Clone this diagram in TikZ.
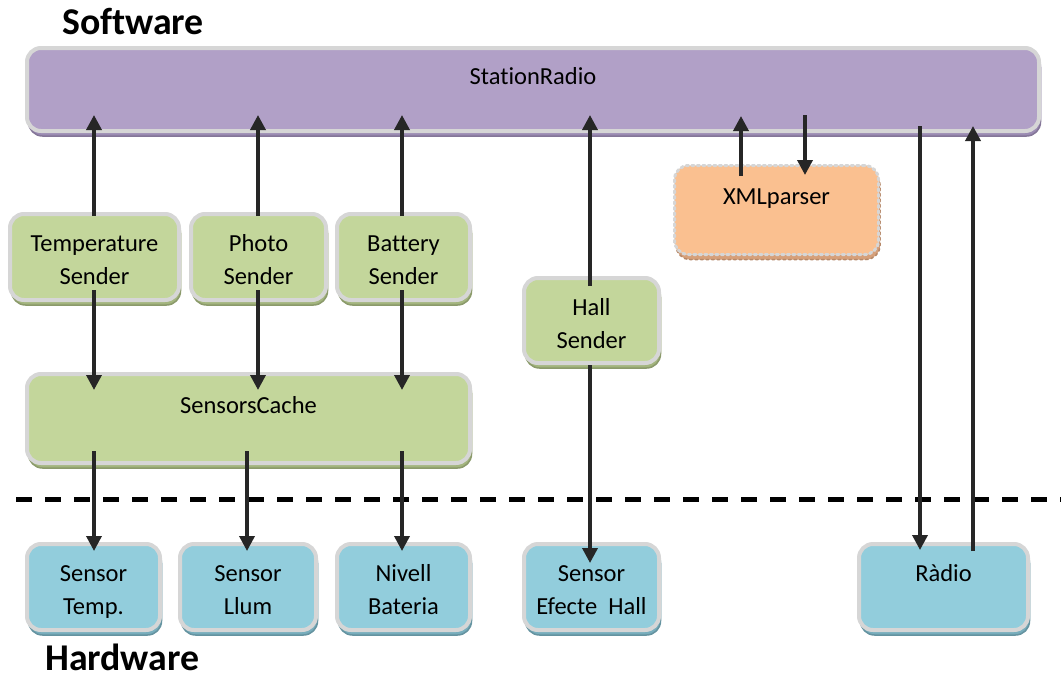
\documentclass[tikz,border=0pt]{standalone}
\usepackage{fontspec}
\setmainfont{Carlito}[Ligatures=NoCommon]
\usetikzlibrary{arrows.meta,calc,shadows}

\definecolor{boxrim}{HTML}{D6D6D6}
\definecolor{purplefill}{HTML}{B1A0C7}
\definecolor{purpleshade}{HTML}{9B8BB3}
\definecolor{greenfill}{HTML}{C3D69B}
\definecolor{greenshade}{HTML}{A3B57E}
\definecolor{bluefill}{HTML}{92CDDC}
\definecolor{blueshade}{HTML}{77ADBC}
\definecolor{orangefill}{HTML}{FAC090}
\definecolor{orangeshade}{HTML}{D6A07A}
\definecolor{arrowc}{HTML}{262626}

% first line of a box label: taller strut pushes the text block down a little
\newcommand\headstrut{\rule{0pt}{32pt}}

\begin{document}
\begin{tikzpicture}[x=1pt,y=-1pt,
  box/.style={draw=boxrim, line width=4pt, rounded corners=14pt, align=center,
    inner sep=0pt, font=\fontsize{24.5}{33}\selectfont},
  withshade/.style={copy shadow={shadow xshift=1.5pt, shadow yshift=-5pt,
    fill=#1, draw=#1!85!black, line width=1.5pt}},
  stationbox/.style={box, fill=purplefill, withshade=purpleshade},
  senderbox/.style={box, fill=greenfill, withshade=greenshade},
  devicebox/.style={box, fill=bluefill, withshade=blueshade},
  parserbox/.style={box, fill=orangefill, withshade=orangeshade,
    draw=boxrim, line width=3pt, dash pattern=on 2.5pt off 3pt, line cap=round},
  arr/.style={draw=arrowc, line width=3.5pt, -{Triangle[width=15pt,length=15pt]}},
  cut/.style={draw=black, line width=5pt, dash pattern=on 16pt off 13pt},
  heading/.style={font=\fontsize{37.8}{40}\selectfont\bfseries, inner sep=0pt, anchor=base west}
]
\useasboundingbox (0,0) rectangle (1061,678);

% software layer
\node[stationbox, minimum width=1012pt, minimum height=83pt] (station) at (533,89.5) {\headstrut StationRadio\\\strut};
\node[senderbox, minimum width=169pt, minimum height=86pt] (temp) at (94.5,257) {\headstrut Temperature\\\strut Sender};
\node[senderbox, minimum width=135pt, minimum height=86pt] (photo) at (258.5,257) {\headstrut Photo\\\strut Sender};
\node[senderbox, minimum width=133pt, minimum height=86pt] (battery) at (403.5,257) {\headstrut Battery\\\strut Sender};
\node[senderbox, minimum width=135pt, minimum height=85pt] (hall) at (591.5,320.5) {\headstrut Hall\\\strut Sender};
\node[senderbox, minimum width=443pt, minimum height=89pt] (cache) at (248.5,418.5) {\headstrut SensorsCache\\\strut};
\node[parserbox, minimum width=204pt, minimum height=89pt] (xml) at (776.5,210) {\headstrut XMLparser\\\strut};

% hardware layer
\node[devicebox, minimum width=133pt, minimum height=86pt] (stemp) at (93.5,587) {\headstrut Sensor\\\strut Temp.};
\node[devicebox, minimum width=136pt, minimum height=86pt] (sllum) at (248,587) {\headstrut Sensor\\\strut Llum};
\node[devicebox, minimum width=133pt, minimum height=86pt] (nivell) at (403.5,587) {\headstrut Nivell\\\strut Bateria};
\node[devicebox, minimum width=135pt, minimum height=86pt] (shall) at (591.5,587) {\headstrut Sensor\\\strut Efecte~~Hall};
\node[devicebox, minimum width=169pt, minimum height=86pt] (radio) at (943.5,587) {\headstrut R\`adio\\\strut};

% software / hardware boundary
\coordinate (cutL) at (16,499);
\coordinate (cutR) at (1061,499);
\draw[cut] (cutL) -- (cutR);

\node[heading] (sw) at (62,34) {Software};
\node[heading] (hw) at (45,670.5) {Hardware};

% senders to the station
\draw[arr] ($(temp.north)+(-0.5,4)$) -- ($(temp.north |- station.south)+(-0.5,-18)$);
\draw[arr] ($(photo.north)+(-0.5,4)$) -- ($(photo.north |- station.south)+(-0.5,-18)$);
\draw[arr] ($(battery.north)+(-1.5,4)$) -- ($(battery.north |- station.south)+(-1.5,-18)$);
\draw[arr] ($(hall.north)+(-1.5,10)$) -- ($(hall.north |- station.south)+(-1.5,-18)$);

% senders read the cache
\draw[arr] ($(temp.south)+(-0.5,-12)$) -- ($(temp.south |- cache.north)+(-0.5,18)$);
\draw[arr] ($(photo.south)+(-0.5,-12)$) -- ($(photo.south |- cache.north)+(-0.5,18)$);
\draw[arr] ($(battery.south)+(-1.5,-12)$) -- ($(battery.south |- cache.north)+(-1.5,18)$);

% cache to sensors
\draw[arr] ($(stemp.north |- cache.south)+(0.5,-14)$) -- ($(stemp.north)+(0.5,9)$);
\draw[arr] ($(sllum.north |- cache.south)+(-1,-14)$) -- ($(sllum.north)+(-1,9)$);
\draw[arr] ($(nivell.north |- cache.south)+(-1.5,-14)$) -- ($(nivell.north)+(-1.5,9)$);

% hall sender to its sensor
\draw[arr] ($(hall.south)+(-1.5,0)$) -- ($(shall.north)+(-1.5,21)$);

% station and parser
\draw[arr] ($(xml.north)+(-35.5,12)$) -- ($(xml.north |- station.south)+(-35.5,-17)$);
\draw[arr] ($(xml.north |- station.south)+(28.5,-18)$) -- ($(xml.north)+(28.5,11)$);

% station and radio
\draw[arr] ($(radio.north |- station.south)+(-23.5,-7)$) -- ($(radio.north)+(-23.5,8)$);
\draw[arr] ($(radio.north)+(29.5,9)$) -- ($(radio.north |- station.south)+(29.5,-7)$);
\end{tikzpicture}
\end{document}
